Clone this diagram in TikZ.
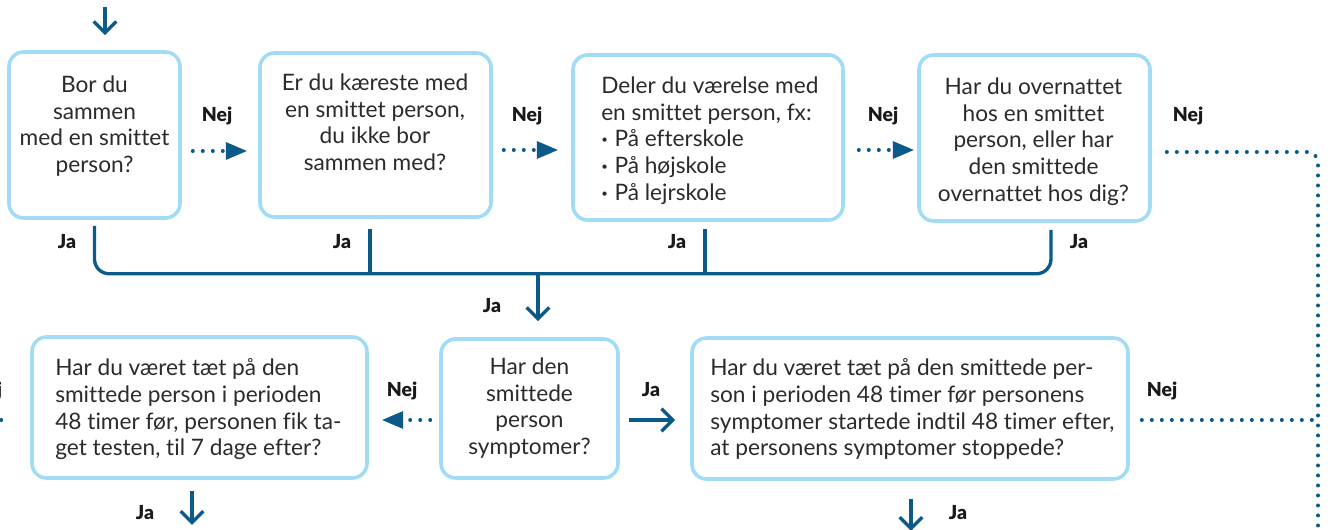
\documentclass[tikz,border=0pt]{standalone}
\usepackage{fontspec}
\setmainfont{Lato}[Ligatures=NoCommon]
\newfontfamily\lblfont{Lato Black}
\usetikzlibrary{arrows.meta,calc}
\definecolor{boxc}{HTML}{A0DCF6}
\definecolor{arr}{HTML}{0B5A89}
\definecolor{txt}{HTML}{2B2B2B}
\definecolor{lbl}{HTML}{1A1A1A}
\newcommand{\bul}{{\fontsize{8.5}{10}\selectfont\raisebox{2.2pt}{•}}\hspace{5pt}}
\begin{document}
\begin{tikzpicture}[x=0.75pt,y=-0.75pt,
  box/.style={draw=boxc, line width=2.7pt, rounded corners=11pt, inner sep=0pt},
  qtext/.style={text=txt, font=\fontsize{17}{20}\selectfont, inner sep=0pt},
  lab/.style={text=lbl, font=\lblfont\fontsize{14.5}{16}\selectfont, inner sep=0pt, anchor=base},
  conn/.style={draw=arr, line width=2.5pt},
  yes/.style={conn, -{Straight Barb[length=8.5pt,width=17pt,line join=miter]}},
  dots/.style={draw=arr, line width=3pt, line cap=round, dash pattern=on 0pt off 7.5pt},
  no/.style={dots, -{Triangle[length=16pt,width=12.5pt]}},
]
\useasboundingbox (0,0) rectangle (1328,530);

% boxes
\node[box, minimum width=128.25pt, minimum height=124.5pt] (b1) at (94.5,135) {};
\node[box, minimum width=173.25pt, minimum height=123pt] (b2) at (375.5,135) {};
\node[box, minimum width=202.5pt, minimum height=123.75pt] (b3) at (708,137.5) {};
\node[box, minimum width=173.25pt, minimum height=124.5pt] (b4) at (1034.5,138) {};
\node[box, minimum width=251.25pt, minimum height=105.75pt] (b5) at (199.5,407.5) {};
\node[box, minimum width=132.75pt, minimum height=104.25pt] (b6) at (529.5,408.5) {};
\node[box, minimum width=327pt, minimum height=105.75pt] (b7) at (910,408.5) {};

% texts
\node[qtext, anchor=north, align=center] (t1) at (94.5,75.5) {Bor du\\sammen\\med en smittet\\person?};
\node[qtext, anchor=north, align=center] (t2) at (375,73.5) {Er du kæreste med\\en smittet person,\\du ikke bor\\sammen med?};
\node[qtext, anchor=north west, align=left] (t3) at (601,76.5) {Deler du værelse med\\en smittet person, fx:\\\bul På efterskole\\\bul På højskole\\\bul På lejrskole};
\node[qtext, anchor=north, align=center] (t4) at (1033.5,77.5) {Har du overnattet\\hos en smittet\\person, eller har\\den smittede\\overnattet hos dig?};
\node[qtext, anchor=north west, align=left] (t5) at (55,358.5) {Har du været tæt på den\\smittede person i perioden\\48 timer før, personen fik ta-\\get testen, til 7 dage efter?};
\node[qtext, anchor=north, align=center] (t6) at (529.5,357.5) {Har den\\smittede\\person\\symptomer?};
\node[qtext, anchor=north west, align=left] (t7) at (710,358.5) {Har du været tæt på den smittede per-\\son i perioden 48 timer før personens\\symptomer startede indtil 48 timer efter,\\at personens symptomer stoppede?};

% coordinates
\coordinate (start) at (105,7);
\coordinate (jt) at (538,272);
\coordinate (bot) at (1318,545);
\coordinate (j7) at (1318,420);
\coordinate (offl) at (-90,420);

% entry arrow
\draw[yes] (start) -- ($(b1.north)+(10.5,-15)$);

% Nej arrows top row
\draw[no] ($(b1.east)+(11,16)$) -- ($(b2.west)+(-11,16)$);
\draw[no] ($(b2.east)+(11,15)$) -- ($(b3.west)+(-13,12.5)$);
\draw[no] ($(b3.east)+(14,12.5)$) -- ($(b4.west)+(-3,12)$);
\draw[dots, rounded corners=8pt] ($(b4.east)+(15,14)$) -| (bot);
\draw[dots] ($(b7.east)+(12,11.5)$) -- (j7);

% Ja tree
\draw[conn, rounded corners=11pt] ($(b1.south)+(0,6)$) |- ($(b4.south)+(16.5,51)$) -- ($(b4.south)+(16.5,7)$);
\draw[conn] ($(b2.south)+(-5.5,10)$) -- ++(0,45);
\draw[conn] ($(b3.south)+(-3,7)$) -- ++(0,45);
\draw[yes] (jt) -- ($(b6.north)+(8.5,-16)$);

% middle row
\draw[no] ($(b6.west)+(-9,11.5)$) -- ($(b5.east)+(13,12.5)$);
\draw[yes] ($(b6.east)+(9,11.5)$) -- ($(b7.west)+(-15,11.5)$);
\draw[no] ($(b5.west)+(-29,12.5)$) -- (offl);

% bottom arrows
\draw[yes] ($(b5.south)+(-7.5,11)$) -- ++(0,34);
\draw[yes] ($(b7.south)+(1,18)$) -- ++(0,32);

% labels
\node[lab] (n1) at (217,122) {Nej};
\node[lab] (n2) at (527,122) {Nej};
\node[lab] (n3) at (883,122) {Nej};
\node[lab] (n4) at (1188,122) {Nej};
\node[lab] (n5) at (1162,397) {Nej};
\node[lab] (n6) at (402,397) {Nej};
\node[lab] (n7) at (-13,397) {Nej};
\node[lab] (j1) at (67,249) {Ja};
\node[lab] (j2) at (342,249) {Ja};
\node[lab] (j3) at (677,249) {Ja};
\node[lab] (j4) at (1079,249) {Ja};
\node[lab] (j5) at (492,313) {Ja};
\node[lab] (j6) at (651,397) {Ja};
\node[lab] (j7l) at (145,520) {Ja};
\node[lab] (j8) at (958,520) {Ja};
\end{tikzpicture}
\end{document}
